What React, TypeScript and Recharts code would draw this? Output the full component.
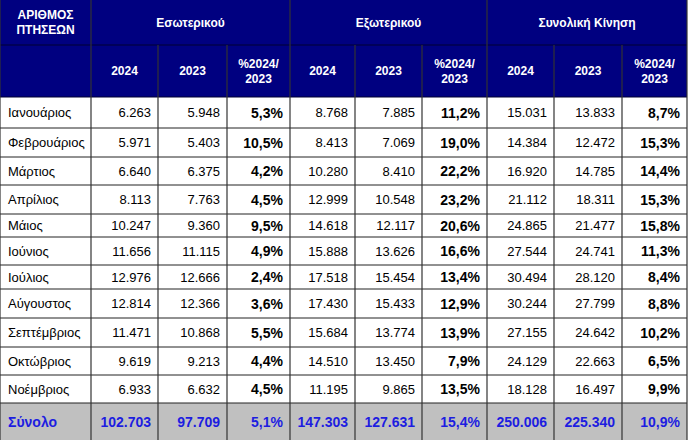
import React from "react";
import { ScatterChart, Scatter, XAxis, YAxis, ReferenceArea, ReferenceLine } from "recharts";

const months = [
  "Ιανουάριος", "Φεβρουάριος", "Μάρτιος", "Απρίλιος", "Μάιος", "Ιούνιος",
  "Ιούλιος", "Αύγουστος", "Σεπτέμβριος", "Οκτώβριος", "Νοέμβριος",
];
const dom2024 = [6263, 5971, 6640, 8113, 10247, 11656, 12976, 12814, 11471, 9619, 6933];
const dom2023 = [5948, 5403, 6375, 7763, 9360, 11115, 12666, 12366, 10868, 9213, 6632];
const domPct = [5.3, 10.5, 4.2, 4.5, 9.5, 4.9, 2.4, 3.6, 5.5, 4.4, 4.5];
const ext2024 = [8768, 8413, 10280, 12999, 14618, 15888, 17518, 17430, 15684, 14510, 11195];
const ext2023 = [7885, 7069, 8410, 10548, 12117, 13626, 15454, 15433, 13774, 13450, 9865];
const extPct = [11.2, 19.0, 22.2, 23.2, 20.6, 16.6, 13.4, 12.9, 13.9, 7.9, 13.5];
const tot2024 = [15031, 14384, 16920, 21112, 24865, 27544, 30494, 30244, 27155, 24129, 18128];
const tot2023 = [13833, 12472, 14785, 18311, 21477, 24741, 28120, 27799, 24642, 22663, 16497];
const totPct = [8.7, 15.3, 14.4, 15.3, 15.8, 11.3, 8.4, 8.8, 10.2, 6.5, 9.9];

const totalLabel = "Σύνολο";
const totalRow = [102703, 97709, 5.1, 147303, 127631, 15.4, 250006, 225340, 10.9];

const cornerTitle = ["ΑΡΙΘΜΟΣ", "ΠΤΗΣΕΩΝ"];
const groups = ["Εσωτερικού", "Εξωτερικού", "Συνολική Κίνηση"];
const subHeads = [["2024"], ["2023"], ["%2024/", "2023"]];

// layout of the table grid (pixel edges)
const colEdges = [0, 91, 158, 227, 290, 355, 422, 487, 554, 622, 687];
const rowEdges = [0, 45, 97, 128, 157, 185, 214, 237, 265, 289, 318, 347, 375, 403, 440];

const W = 688;
const H = 440;
const NAVY = "#000080";
const BLUE = "#1d1de0";
const FONT = "'Liberation Sans', Arial, sans-serif";

const fmt = (n: number) => String(n).replace(/\B(?=(\d{3})+(?!\d))/g, ".");
const pct = (n: number) => n.toFixed(1).replace(".", ",") + "%";

type Cell = {
  x: number;
  y: number;
  lines: string[];
  anchor: "start" | "middle" | "end";
  kind: "head" | "body" | "bold" | "total";
};

function buildCells(): Cell[] {
  const cells: Cell[] = [];
  const mid = (a: number, b: number) => (a + b) / 2;
  const place = (c0: number, c1: number, r: number, lines: string[], anchor: Cell["anchor"], kind: Cell["kind"]) => {
    const x = anchor === "start" ? colEdges[c0] + 8 : anchor === "end" ? colEdges[c1] - 7 : mid(colEdges[c0], colEdges[c1]);
    cells.push({ x, y: mid(rowEdges[r], rowEdges[r + 1]), lines, anchor, kind });
  };

  place(0, 1, 0, cornerTitle, "middle", "head");
  groups.forEach((g, i) => place(1 + i * 3, 4 + i * 3, 0, [g], "middle", "head"));
  for (let g = 0; g < 3; g++) {
    subHeads.forEach((s, j) => place(1 + g * 3 + j, 2 + g * 3 + j, 1, s, "middle", "head"));
  }

  const cols = [dom2024, dom2023, domPct, ext2024, ext2023, extPct, tot2024, tot2023, totPct];
  months.forEach((m, i) => {
    const r = i + 2;
    place(0, 1, r, [m], "start", "body");
    cols.forEach((arr, c) => {
      const isPct = c % 3 === 2;
      place(c + 1, c + 2, r, [isPct ? pct(arr[i]) : fmt(arr[i])], "end", isPct ? "bold" : "body");
    });
  });

  const tr = months.length + 2;
  place(0, 1, tr, [totalLabel], "start", "total");
  totalRow.forEach((v, c) => {
    place(c + 1, c + 2, tr, [c % 3 === 2 ? pct(v) : fmt(v)], "end", "total");
  });
  return cells;
}

const cells = buildCells();

const CellText = (props: any) => {
  const { cx, cy, payload } = props;
  if (cx == null || cy == null) return null;
  const c = payload as Cell;
  const style =
    c.kind === "head"
      ? { fill: "#ffffff", fontWeight: 700, fontSize: 12 }
      : c.kind === "bold"
      ? { fill: "#000000", fontWeight: 700, fontSize: 14 }
      : c.kind === "total"
      ? { fill: BLUE, fontWeight: 700, fontSize: 14 }
      : { fill: "#000000", fontWeight: 400, fontSize: 13 };
  const lh = 15;
  const start = cy - ((c.lines.length - 1) * lh) / 2;
  return (
    <text x={cx} textAnchor={c.anchor} fontFamily={FONT} {...style}>
      {c.lines.map((l, i) => (
        <tspan key={i} x={cx} y={start + i * lh} dominantBaseline="central">
          {l}
        </tspan>
      ))}
    </text>
  );
};

export default function App() {
  const last = rowEdges[rowEdges.length - 1];
  const headBottom = rowEdges[2];
  return (
    <div style={{ width: W, height: H, background: "#fff" }}>
      <style>{"body{margin:0}"}</style>
      <ScatterChart width={W} height={H} margin={{ top: 0, right: 0, bottom: 0, left: 0 }}>
        <XAxis type="number" dataKey="x" domain={[0, W]} hide allowDataOverflow />
        <YAxis type="number" dataKey="y" domain={[0, H]} reversed hide allowDataOverflow />
        <ReferenceArea x1={0} x2={colEdges[10]} y1={0} y2={headBottom} fill={NAVY} fillOpacity={1} stroke="none" />
        <ReferenceArea
          x1={0}
          x2={colEdges[10]}
          y1={rowEdges[rowEdges.length - 2]}
          y2={last}
          fill="#c0c0c0"
          fillOpacity={1}
          stroke="none"
        />
        {rowEdges.slice(1, -1).map((y) => (
          <ReferenceLine
            key={"h" + y}
            segment={[{ x: 0, y }, { x: colEdges[10], y }]}
            stroke={y <= headBottom ? "#000033" : "#222"}
            strokeWidth={1}
          />
        ))}
        {colEdges.map((x, i) => {
          const full = i === 0 || i === 1 || i === 4 || i === 7 || i === 10;
          return (
            <ReferenceLine
              key={"v" + x}
              segment={[{ x, y: full ? 0 : rowEdges[1] }, { x, y: last }]}
              stroke="#333"
              strokeWidth={1.2}
            />
          );
        })}
        <Scatter data={cells} shape={CellText} isAnimationActive={false} />
      </ScatterChart>
    </div>
  );
}
